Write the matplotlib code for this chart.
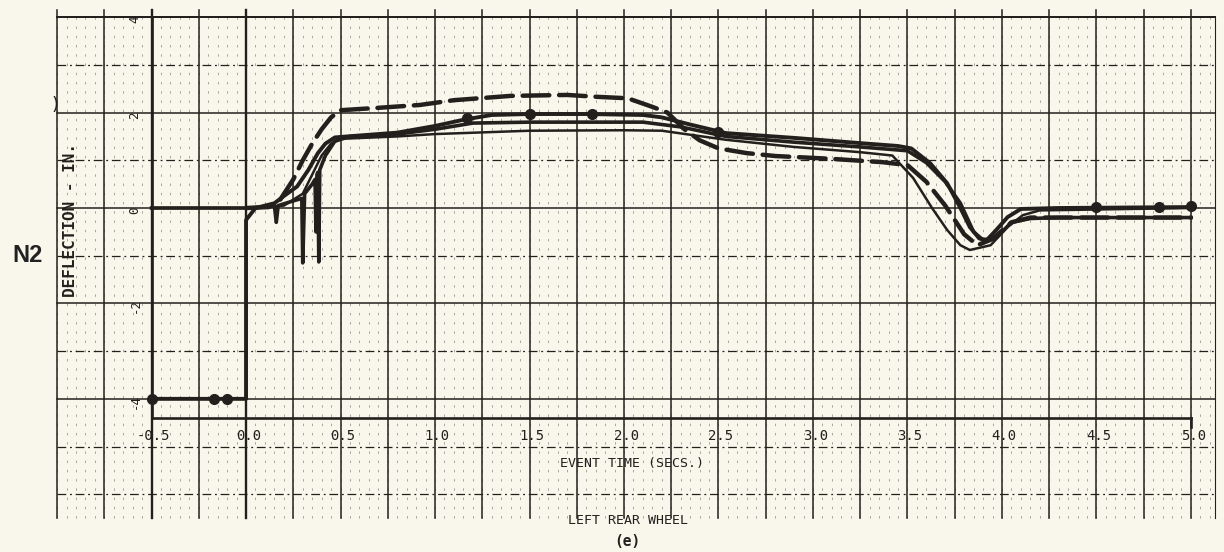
import matplotlib
matplotlib.use("Agg")
import matplotlib.pyplot as plt
import numpy as np

# ---------------- data ----------------
# event / marker trace (starts off-scale at -4 before the event)
s1_x = [-0.5, 0.0, 0.0, 0.05, 0.15, 0.2, 0.27, 0.33, 0.38, 0.42, 0.47, 0.6, 0.8, 1.0, 1.15, 1.3, 1.5,
        1.8, 2.1, 2.2, 2.35, 2.54, 2.9, 3.25, 3.45, 3.52, 3.62, 3.71, 3.78, 3.83, 3.88, 3.92, 3.97,
        4.03, 4.1, 4.3, 5.0]
s1_y = [-4.0, -4.0, -0.25, 0.0, 0.1, 0.25, 0.45, 0.8, 1.15, 1.35, 1.48, 1.52, 1.58, 1.72, 1.85, 1.95, 1.97,
        1.97, 1.95, 1.9, 1.75, 1.57, 1.47, 1.36, 1.3, 1.25, 0.94, 0.52, 0.0, -0.4, -0.64, -0.67, -0.46,
        -0.19, -0.02, 0.0, 0.02]
s1_mark_x = [-0.5, -0.17, -0.1, 1.17, 1.5, 1.83, 2.5, 4.5, 4.83, 5.0]
s1_mark_y = [-4.0, -4.0, -4.0, 1.88, 1.97, 1.97, 1.6, 0.02, 0.02, 0.04]

# spiky trace
s2_x = [-0.5, 0.0, 0.1, 0.15, 0.16, 0.17, 0.25, 0.295, 0.30, 0.31, 0.35, 0.365, 0.37, 0.375,
        0.38, 0.385, 0.39, 0.42, 0.47, 0.55, 0.8, 1.0, 1.2, 1.5, 1.8, 2.1, 2.3, 2.54, 2.9, 3.25,
        3.5, 3.6, 3.7, 3.78, 3.85, 3.9, 3.97, 4.05, 4.15, 4.3, 5.0]
s2_y = [0.0, 0.0, 0.02, 0.05, -0.3, 0.05, 0.15, 0.2, -1.15, 0.3, 0.5, 0.6, -0.5, 0.7,
        0.75, -1.13, 0.8, 1.1, 1.4, 1.5, 1.55, 1.65, 1.78, 1.8, 1.8, 1.8, 1.7, 1.5, 1.38, 1.28,
        1.2, 0.95, 0.55, 0.1, -0.5, -0.67, -0.62, -0.3, -0.22, -0.2, -0.2]

# lower solid trace (dips first)
s3_x = [-0.5, 0.0, 0.2, 0.3, 0.35, 0.4, 0.45, 0.5, 0.8, 1.0, 1.5, 2.0, 2.2, 2.54, 2.9, 3.25,
        3.42, 3.53, 3.63, 3.71, 3.78, 3.83, 3.94, 4.03, 4.11, 4.2, 5.0]
s3_y = [0.0, 0.0, 0.05, 0.3, 0.7, 1.1, 1.35, 1.45, 1.5, 1.55, 1.62, 1.63, 1.62, 1.43, 1.28, 1.17,
        1.1, 0.63, 0.0, -0.46, -0.78, -0.88, -0.78, -0.4, -0.15, -0.05, 0.0]

# dashed trace
d_x = [0.0, 0.12, 0.18, 0.25, 0.3, 0.35, 0.4, 0.45, 0.5, 0.7, 0.92, 1.1, 1.4, 1.7, 1.86, 2.02,
       2.15, 2.23, 2.32, 2.4, 2.5, 2.65, 2.8, 3.1, 3.37, 3.5, 3.6, 3.7, 3.8, 3.87, 3.95, 4.05,
       4.15, 5.0]
d_y = [0.0, 0.02, 0.17, 0.6, 1.0, 1.35, 1.65, 1.9, 2.05, 2.1, 2.16, 2.26, 2.35, 2.37, 2.33, 2.3,
       2.12, 2.0, 1.65, 1.42, 1.25, 1.15, 1.09, 1.03, 0.96, 0.9, 0.55, 0.05, -0.55, -0.78, -0.65,
       -0.3, -0.2, -0.2]

x_ticks = [-0.5, 0.0, 0.5, 1.0, 1.5, 2.0, 2.5, 3.0, 3.5, 4.0, 4.5, 5.0]
x_tick_labels = ["-0.5", "0.0", "0.5", "1.0", "1.5", "2.0", "2.5", "3.0", "3.5", "4.0", "4.5", "5.0"]
y_ticks = [4, 2, 0, -2, -4]
y_tick_labels = ["4", "2", "0", "-2", "-4"]

# ---------------- figure ----------------
BG = "#f9f6ec"
INK = "#231f1c"
fig = plt.figure(figsize=(12.24, 5.52), dpi=100, facecolor=BG)
ax = fig.add_axes([0, 0, 1, 1], facecolor=BG)
ax.set_xlim(-1.302, 5.175)
ax.set_ylim(-7.21, 4.36)
ax.axis("off")

grid_top, grid_bot = 4.0, -6.5
grid_left, grid_right = -1.0, 5.13

# minor vertical dotted lines of the chart paper
for xm in np.arange(-1.0, 5.13, 0.05):
    ax.plot([xm, xm], [grid_bot, grid_top], color="#a9a59d", lw=0.7,
            ls=(0, (2.5, 7)), zorder=1)
# major vertical lines
for xv in np.arange(-1.0, 5.01, 0.25):
    lw = 1.7 if abs(xv + 0.5) < 1e-6 or abs(xv) < 1e-6 else 1.1
    ax.plot([xv, xv], [grid_bot, grid_top + 0.15], color=INK, lw=lw, zorder=2)
ax.plot([grid_right, grid_right], [grid_bot, grid_top], color=INK, lw=0.8, zorder=2)
# horizontal lines
for yh in range(4, -7, -1):
    if yh % 2 == 0 and yh >= -4:
        ax.plot([grid_left, grid_right], [yh, yh], color=INK, lw=1.1, zorder=2)
    else:
        ax.plot([grid_left, grid_right], [yh, yh], color=INK, lw=0.9,
                ls=(0, (7, 3, 1.5, 3)), zorder=2)
ax.plot([grid_left, grid_right], [4.0, 4.0], color=INK, lw=1.4, zorder=2)

# axis lines
ax.plot([-0.5, -0.5], [4.0, -4.4], color=INK, lw=1.9, zorder=3)
ax.plot([-0.5, 5.0], [-4.4, -4.4], color=INK, lw=1.9, zorder=3)
ax.plot([5.0, 5.0], [-4.4, -4.6], color=INK, lw=1.9, zorder=3)

# traces
ax.plot(s3_x, s3_y, color=INK, lw=1.8, zorder=5, solid_joinstyle="round")
ax.plot(s2_x, s2_y, color=INK, lw=2.6, zorder=5, solid_joinstyle="round")
ax.plot(s1_x, s1_y, color=INK, lw=2.8, zorder=5, solid_joinstyle="round")
ax.plot(s1_mark_x, s1_mark_y, ls="none", marker="o", ms=7, color=INK, zorder=6)
ax.plot(d_x, d_y, color=INK, lw=3.2, ls=(0, (6, 2.2)), zorder=5, dash_capstyle="round")

# tick labels
mono = "DejaVu Sans Mono"
for xt, lab in zip(x_ticks, x_tick_labels):
    ax.text(xt + 0.012, -4.78, lab, ha="center", va="center", fontsize=10,
            family=mono, color=INK, zorder=7)
for yt, lab in zip(y_ticks, y_tick_labels):
    ax.text(-0.587, yt - 0.05, lab, ha="center", va="center", fontsize=9,
            family=mono, color=INK, rotation=90, zorder=7)

ax.text(-0.93, -0.25, "DEFLECTION - IN.", rotation=90, ha="center", va="center",
        fontsize=11.5, family=mono, fontweight="bold", color=INK, zorder=7)
ax.text(2.04, -5.35, "EVENT TIME (SECS.)", ha="center", va="center", fontsize=9.5,
        family=mono, color=INK, zorder=7)
ax.text(2.02, -6.54, "LEFT REAR WHEEL", ha="center", va="center", fontsize=9.5,
        family=mono, color=INK, zorder=7)
ax.text(2.02, -6.98, "(e)", ha="center", va="center", fontsize=10.5,
        family=mono, fontweight="bold", color=INK, zorder=7)
ax.text(-1.155, -1.0, "N2", ha="center", va="center", fontsize=17,
        family="Liberation Sans", fontweight="bold", color="#222222", zorder=7)
ax.text(-1.012, 2.15, ")", ha="center", va="center", fontsize=13,
        family="DejaVu Sans", color=INK, zorder=7)

fig.savefig("out.png", dpi=100, facecolor=BG)
